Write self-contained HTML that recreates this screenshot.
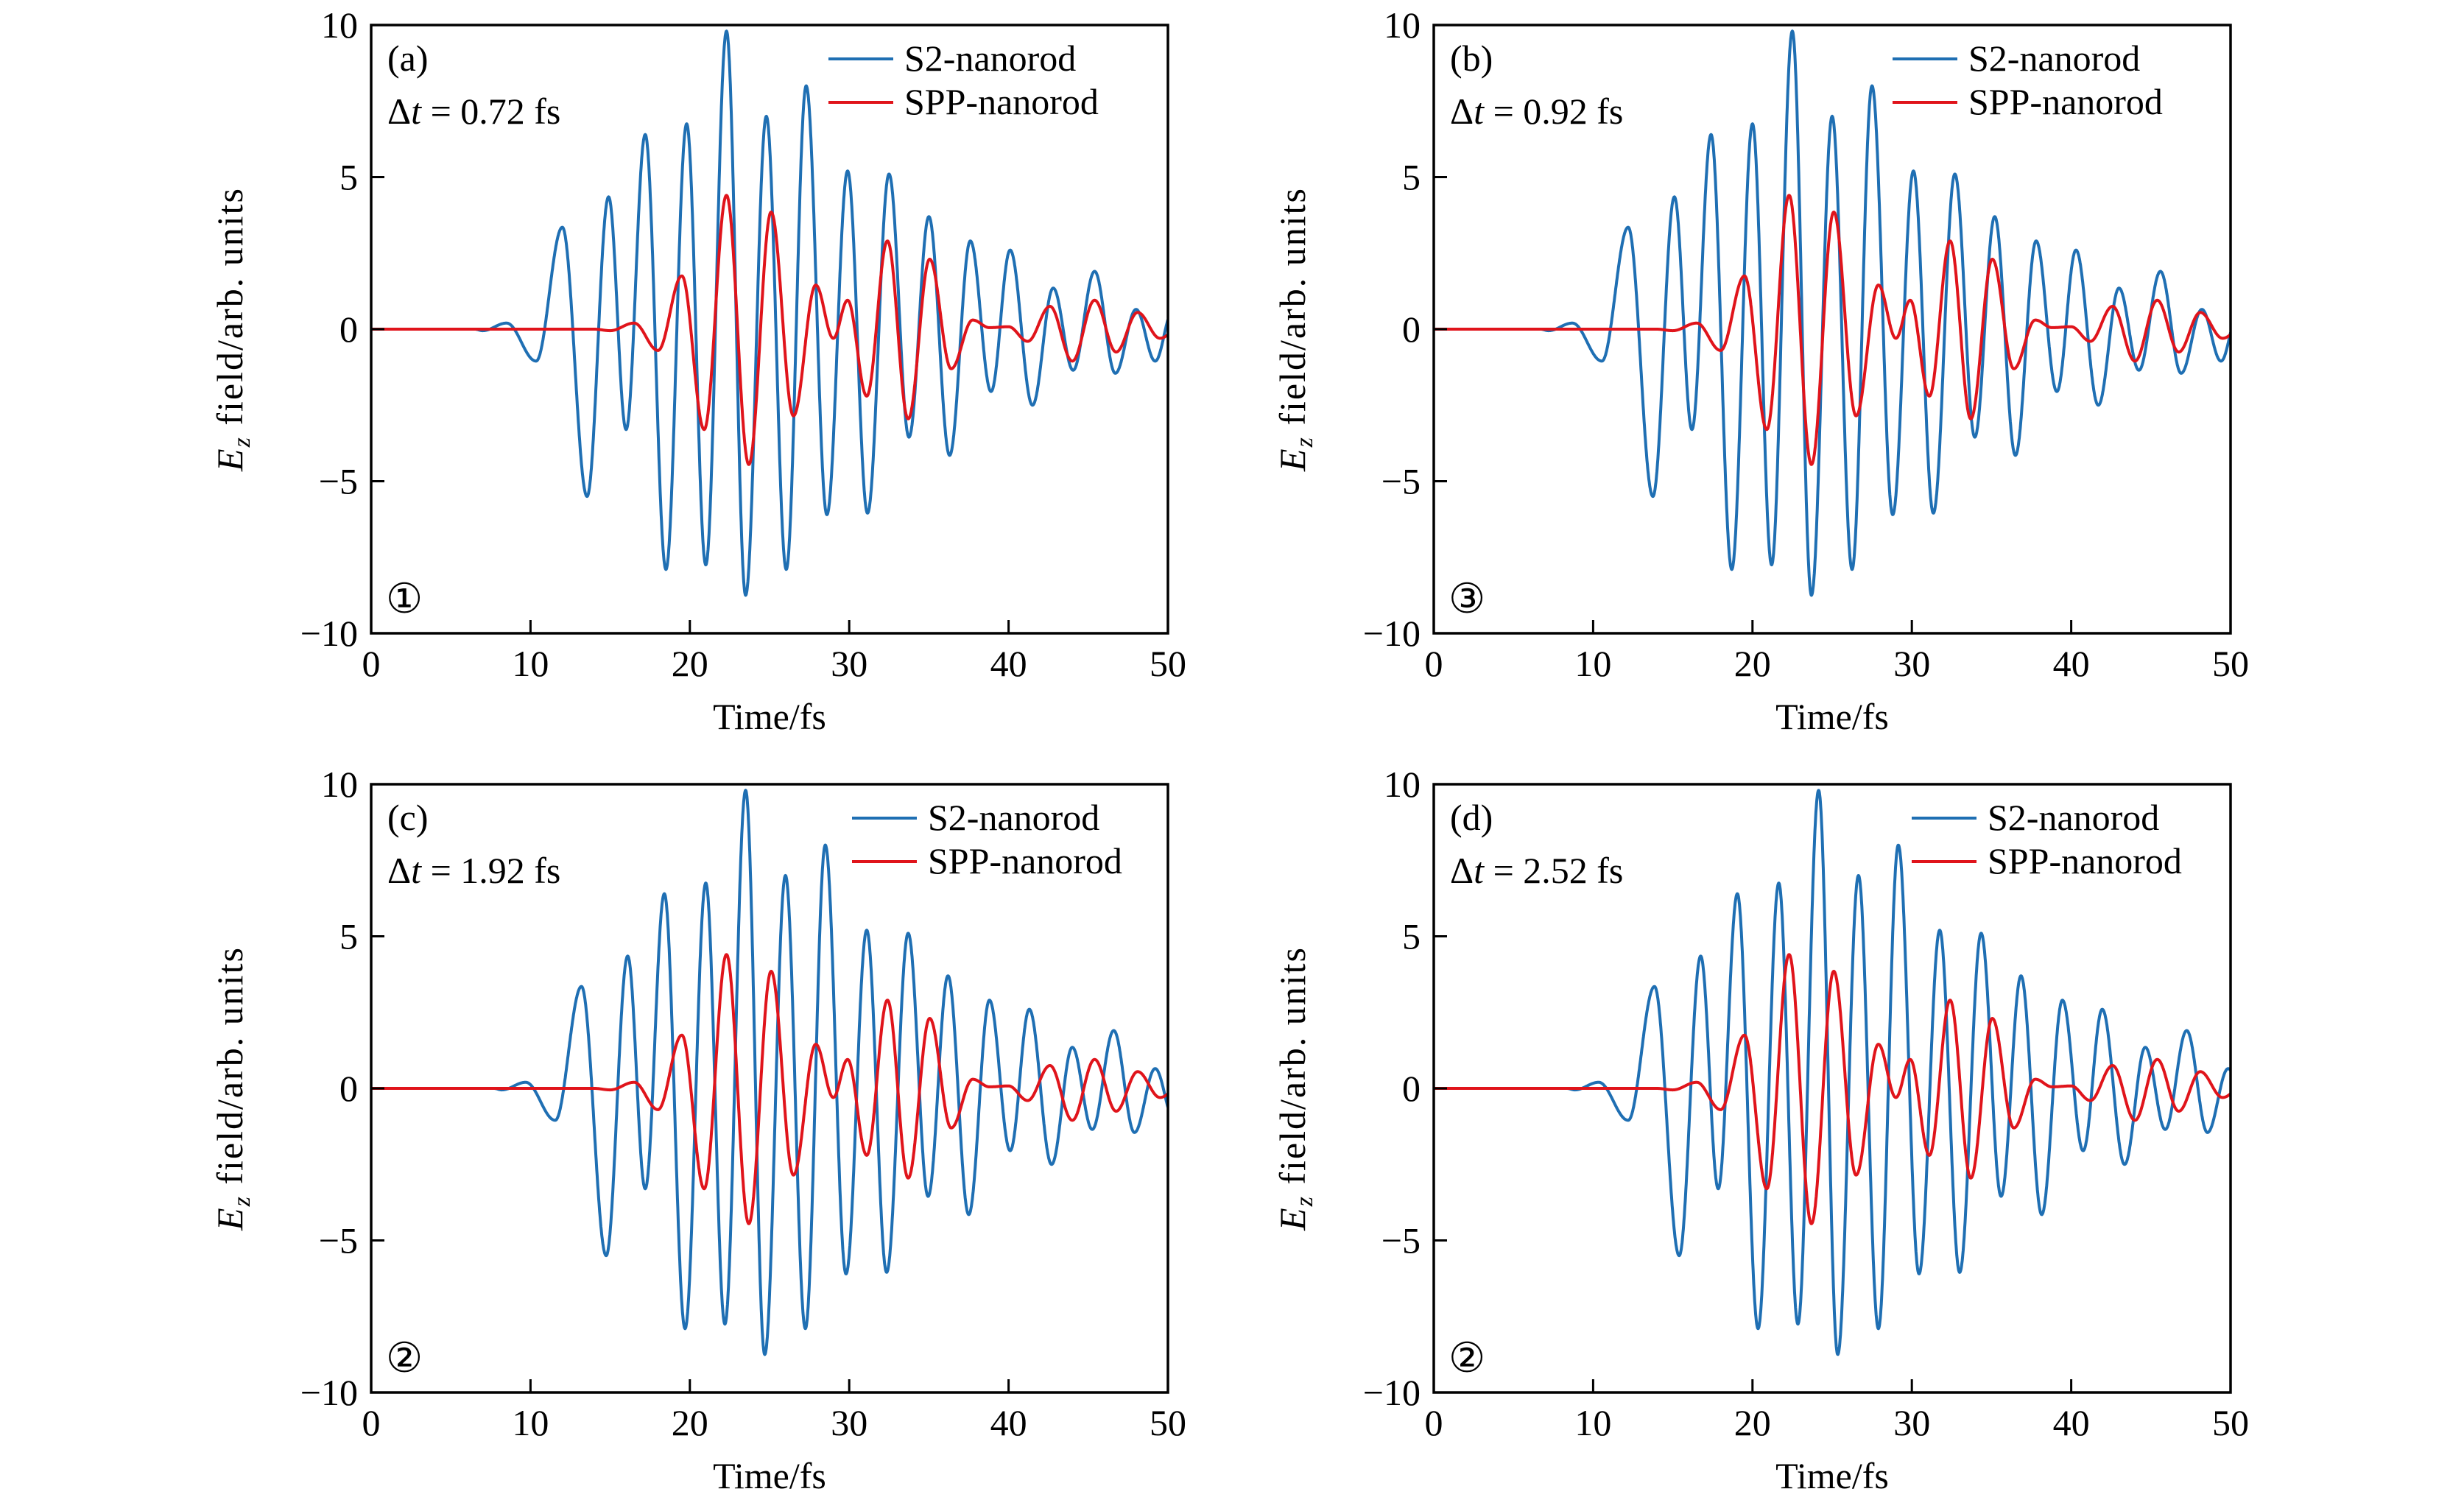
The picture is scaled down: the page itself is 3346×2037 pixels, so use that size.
<!DOCTYPE html>
<html><head><meta charset="utf-8">
<style>
html,body{margin:0;padding:0;background:#fff;}
svg{display:block;}
text{font-family:"Liberation Serif",serif;fill:#000;}
</style></head>
<body>
<svg id="fig" width="3346" height="2037" viewBox="0 0 3346 2037" xmlns="http://www.w3.org/2000/svg"></svg>
<script>
// ---- data (extrema; curves interpolated between them) ----
const blueTimes = [0,6.5,7.0,8.5,10.35,12.0,13.55,14.9,16.0,17.2,18.5,19.8,21.0,22.3,23.5,24.8,26.05,27.3,28.6,29.9,31.15,32.5,33.75,35.0,36.3,37.6,38.9,40.1,41.5,42.8,44.05,45.4,46.7,48.0,49.2,50.3,51.5,52.7];
const blueValues = [0,0,-0.05,0.2,-1.05,3.35,-5.5,4.35,-3.3,6.4,-7.9,6.75,-7.75,9.8,-8.75,7.0,-7.9,8.0,-6.1,5.2,-6.05,5.1,-3.55,3.7,-4.15,2.9,-2.05,2.6,-2.5,1.35,-1.35,1.9,-1.45,0.65,-1.05,0.6,-0.8,0.4];
const redTimes = [0,14.0,15.0,16.5,18.0,19.5,20.9,22.3,23.7,25.1,26.5,27.9,29.0,29.9,31.1,32.4,33.7,35.05,36.4,37.75,38.8,40.0,41.2,42.6,44.0,45.4,46.75,48.1,49.5,51];
const redValues = [0,0,-0.05,0.2,-0.7,1.75,-3.3,4.4,-4.45,3.85,-2.85,1.45,-0.3,0.95,-2.2,2.9,-2.95,2.3,-1.3,0.3,0.05,0.08,-0.4,0.75,-1.05,0.95,-0.75,0.55,-0.3,0.2];
const panelLabels = ["(a)","(b)","(c)","(d)"];
const panelDeltaT = ["0.72","0.92","1.92","2.52"];
const panelBlueShift = [0,0.2,1.2,1.85];
const panelCircled = ["①","③","②","②"];
const xTicks = [0,10,20,30,40,50];
const yTicks = [-10,-5,0,5,10];
const legendNames = ["S2-nanorod","SPP-nanorod"];

// ---- layout ----
const panels = [
  {left:504, top:34, legX:1125},
  {left:1947, top:34, legX:2570},
  {left:504, top:1065, legX:1157},
  {left:1947, top:1065, legX:2596}
];
const PW = 1082, PH = 826;
const NS = "http://www.w3.org/2000/svg";
const svg = document.getElementById('fig');
function mk(tag, attrs, parent){const e=document.createElementNS(NS,tag);for(const k in attrs)e.setAttribute(k,attrs[k]);(parent||svg).appendChild(e);return e;}

function interp(ts, vs, t){
  if(t<=ts[0]) return vs[0];
  for(let i=0;i<ts.length-1;i++){
    if(t>=ts[i] && t<=ts[i+1]){
      const f=(t-ts[i])/(ts[i+1]-ts[i]);
      const c=(1-Math.cos(Math.PI*f))/2;
      return vs[i]+(vs[i+1]-vs[i])*c;
    }
  }
  return vs[vs.length-1];
}

panels.forEach((p,i)=>{
  const g = mk('g',{});
  
  
  const xs = t=>p.left + t/50*PW;
  const ys = v=>p.top + (10-v)/20*PH;
  const clipId='clip'+i;
  const cp=mk('clipPath',{id:clipId},g);
  mk('rect',{x:p.left,y:p.top,width:PW,height:PH},cp);

  function series(ts,vs,shift,color,name){
    let d='';
    for(let t=0;t<=50.001;t+=0.02){
      const v=interp(ts,vs,t-shift);
      d+=(d?'L':'M')+xs(t).toFixed(1)+' '+ys(v).toFixed(1);
    }
    const path=mk('path',{d:d,fill:'none',stroke:color,'stroke-width':4,'clip-path':'url(#'+clipId+')','stroke-linejoin':'round'},g);
    
    
  }
  series(blueTimes,blueValues,panelBlueShift[i],'#1f6fb3','s2-nanorod-line');
  series(redTimes,redValues,0,'#e0141b','spp-nanorod-line');

  const fr=mk('rect',{x:p.left,y:p.top,width:PW,height:PH,fill:'none',stroke:'#000','stroke-width':3.5},g);
  
  

  xTicks.forEach(t=>{
    const x=xs(t);
    if(t>0&&t<50) mk('line',{x1:x,y1:p.top+PH,x2:x,y2:p.top+PH-18,stroke:'#000','stroke-width':3},g);
    const tl=mk('text',{x:x,y:p.top+PH+58,'font-size':50,'text-anchor':'middle'},g);
    tl.textContent=t;
    
    
  });
  yTicks.forEach(v=>{
    const y=ys(v);
    if(v>-10&&v<10) mk('line',{x1:p.left,y1:y,x2:p.left+18,y2:y,stroke:'#000','stroke-width':3},g);
    const tl=mk('text',{x:p.left-18,y:y+17,'font-size':50,'text-anchor':'end'},g);
    tl.textContent=(v<0?'\u2212':'')+Math.abs(v);
    
    
  });

  const xt=mk('text',{x:p.left+PW/2,y:p.top+PH+130,'font-size':50,'text-anchor':'middle'},g);
  xt.textContent='Time/fs';
  
  

  const yt=mk('text',{x:0,y:0,'font-size':50,'text-anchor':'middle','letter-spacing':2,transform:'translate('+(p.left-175)+','+(p.top+PH/2)+') rotate(-90)'},g);
  const e=mk('tspan',{'font-style':'italic'},yt);e.textContent='E';
  const z=mk('tspan',{'font-style':'italic','font-size':34,dy:10},yt);z.textContent='z';
  const rest=mk('tspan',{dy:-10},yt);rest.textContent='\u00a0field/arb. units';
  
  

  const pl=mk('text',{x:p.left+22,y:p.top+62,'font-size':50},g);
  pl.textContent=panelLabels[i];
  
  

  const dt=mk('text',{x:p.left+22,y:p.top+134,'font-size':50},g);
  const d1=mk('tspan',{},dt);d1.textContent='\u0394';
  const d2=mk('tspan',{'font-style':'italic'},dt);d2.textContent='t';
  const d3=mk('tspan',{},dt);d3.textContent=' = '+panelDeltaT[i]+' fs';
  
  

  const cn=mk('text',{x:p.left+20,y:p.top+PH-28,'font-size':56},g);
  cn.textContent=panelCircled[i];
  
  

  const colors=['#1f6fb3','#e0141b'];
  legendNames.forEach((n,k)=>{
    const ly=p.top+46+k*59;
    const lg=mk('g',{},g);
    
    
    mk('line',{x1:p.legX,y1:ly,x2:p.legX+88,y2:ly,stroke:colors[k],'stroke-width':4},lg);
    const lt=mk('text',{x:p.legX+103,y:ly+16,'font-size':50},lg);
    lt.textContent=n;
  });
});
</script>
</body></html>
